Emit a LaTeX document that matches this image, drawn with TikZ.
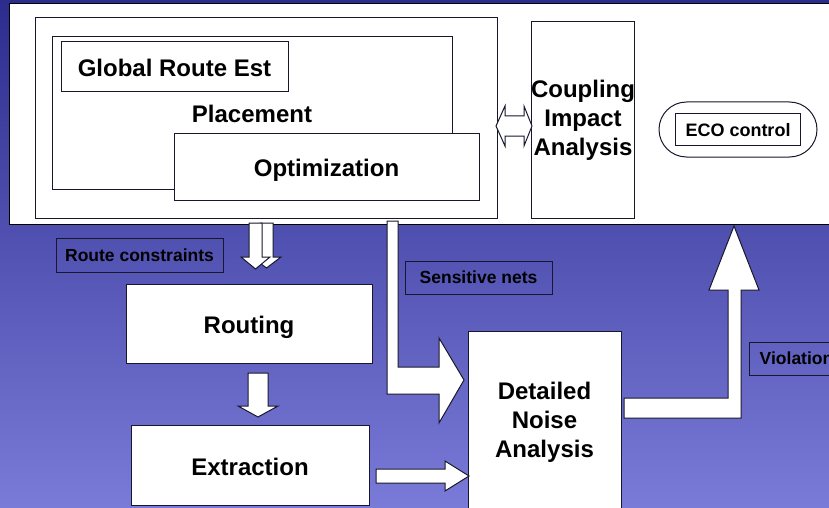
\documentclass[tikz,border=0pt]{standalone}
\usepackage{fontspec}
\setmainfont{Liberation Sans}
\usetikzlibrary{positioning}

\definecolor{bgtop}{RGB}{44,44,142}
\definecolor{bgmid}{RGB}{92,92,184}
\definecolor{bgbot}{RGB}{122,122,216}
\definecolor{edge}{RGB}{24,24,44}

\begin{document}
\begin{tikzpicture}[x=1pt,y=-1pt,line width=1pt,
	main node/.style={rectangle,draw=edge,fill=white,inner sep=0pt,align=center,
		font=\fontsize{24}{28.8}\selectfont\bfseries},
	one line/.style={text height=22pt,text depth=2pt},
	tag node/.style={rectangle,draw=edge,inner sep=0pt,text height=13.5pt,text depth=1pt,
		font=\fontsize{17.5}{21}\selectfont\bfseries},
	blk arrow/.style={draw=edge,fill=white,line join=miter}]

	\useasboundingbox (0,0) rectangle (829,508);
	\clip (0,0) rectangle (829,508);
	\shade[top color=bgtop,middle color=bgmid,bottom color=bgbot] (0,0) rectangle (829,508);

		\node[main node,draw=black,minimum width=826,minimum height=220] (board) at (422,114) {};
		\node[main node,minimum width=462,minimum height=200] (place) at (266,118) {};
		\node[main node,one line,minimum width=400,minimum height=152] (placement) at (252,113) {Placement};
		\node[main node,one line,minimum width=227,minimum height=50] (global) at (174.5,67) {Global Route Est};
		\node[main node,one line,minimum width=305,minimum height=67] (optim) at (326.5,166.5) {Optimization};
		\node[main node,minimum width=102,minimum height=196] (coupling) at (583,120) {Coupling\\Impact\\Analysis};
		\node[main node,minimum width=158,minimum height=55,rounded corners=27.5] (ecoring) at (738,129.5) {};
		\node[main node,minimum width=125,minimum height=32,text height=14pt,text depth=1pt,
			font=\fontsize{18}{21}\selectfont\bfseries] (eco) at (ecoring.center) {ECO control};

		\node[tag node,minimum width=167,minimum height=34] (rtag) at (139.5,255) {Route constraints};
		\node[main node,one line,minimum width=246,minimum height=79] (routing) at (249,323.5) {Routing};
		\node[main node,one line,minimum width=238,minimum height=80] (extract) at (250,465) {Extraction};
		\node[main node,minimum width=153,minimum height=182] (noise) at (544.5,422) {Detailed\\Noise\\Analysis};
		\node[tag node,minimum width=147,minimum height=33] (stag) at (478.5,277.5) {Sensitive nets};
		\node[tag node,minimum width=94,minimum height=33,anchor=west] (vtag) at (749,358.5) {Violation};

	\draw[blk arrow] (496,126) -- (505,106) -- (505,116) -- (524,116) -- (524,106) -- (532,126)
		-- (524,146) -- (524,136) -- (505,136) -- (505,146) -- cycle;
	\draw[blk arrow] (260,223) -- (273,223) -- (273,257) -- (281,257) -- (266.5,268) -- (252,257) -- (260,257) -- cycle;
	\draw[blk arrow] (249,223) -- (262,223) -- (262,257) -- (270,257) -- (255.5,269) -- (241,257) -- (249,257) -- cycle;
	\draw[blk arrow] (248,373) -- (268,373) -- (268,406) -- (278,406) -- (258,417) -- (238,406) -- (248,406) -- cycle;
	\draw[blk arrow] (376,469) -- (445,469) -- (445,461) -- (469,476) -- (445,491) -- (445,483) -- (376,483) -- cycle;
	\draw[blk arrow] (387,221) -- (398,221) -- (398,367) -- (439,367) -- (439,338) -- (464,380)
		-- (439,423) -- (439,394) -- (387,394) -- cycle;
	\draw[blk arrow] (624,418) -- (741,418) -- (741,290) -- (759,290) -- (734,226) -- (709,290)
		-- (728,290) -- (728,398) -- (624,398) -- cycle;

\end{tikzpicture}
\end{document}
